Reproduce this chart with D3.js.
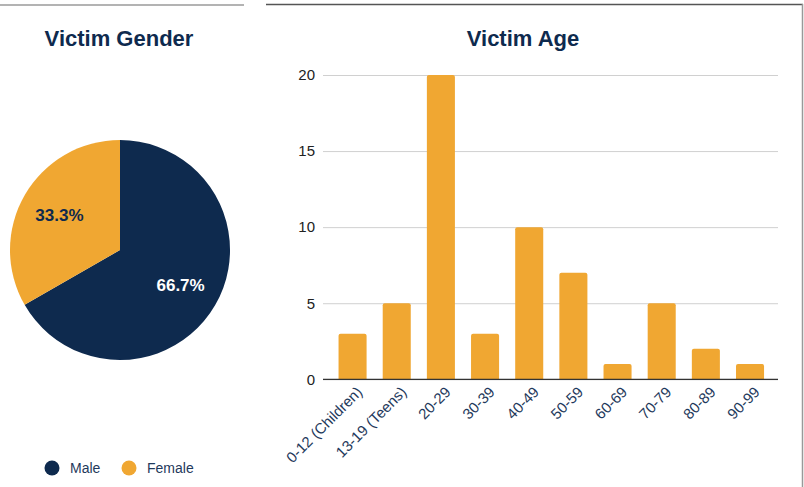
<!DOCTYPE html>
<html>
<head>
<meta charset="utf-8">
<script src="https://cdn.jsdelivr.net/npm/d3@7"></script>
<style>
  body { margin: 0; background: #fff; font-family: "Liberation Sans", Arial, sans-serif; }
  svg { display: block; }
</style>
</head>
<body>
<div id="chart"></div>
<script>
// gender pie
var genders = ['Male', 'Female'];
var genderShare = [66.7, 33.3];

// age bars
var ageGroups = ['0-12 (Children)', '13-19 (Teens)', '20-29', '30-39', '40-49', '50-59', '60-69', '70-79', '80-89', '90-99'];
var ageCounts = [3, 5, 20, 3, 10, 7, 1, 5, 2, 1];
var yTicks = [0, 5, 10, 15, 20];

var NAVY = '#0e2a4e', ORANGE = '#f0a732';

var W = 804, H = 487;
var svg = d3.select('#chart').append('svg')
    .attr('width', W)
    .attr('height', H);

// panel edges
svg.append('line').attr('x1', 0).attr('x2', 244).attr('y1', 5).attr('y2', 5)
    .attr('stroke', '#9a9a9a').attr('stroke-width', 1.5);
svg.append('line').attr('x1', 266).attr('x2', 803).attr('y1', 4.5).attr('y2', 4.5)
    .attr('stroke', '#555').attr('stroke-width', 1.5);
svg.append('line').attr('x1', 802.5).attr('x2', 802.5).attr('y1', 4).attr('y2', H)
    .attr('stroke', '#999').attr('stroke-width', 1.5);

// ---- pie ----
svg.append('text').attr('x', 119).attr('y', 46)
    .attr('text-anchor', 'middle').attr('font-size', 22).attr('font-weight', 'bold')
    .attr('fill', NAVY).text('Victim Gender');

var pieColor = d3.scaleOrdinal().domain(genders).range([NAVY, ORANGE]);
var pie = d3.pie().sort(null).value(function(d, i) { return genderShare[i]; });
var arcs = pie(genders);
var r = 110;
var arc = d3.arc().innerRadius(0).outerRadius(r);
var labelArc = d3.arc().innerRadius(70).outerRadius(70);

var pg = svg.append('g').attr('transform', 'translate(120,250)');
pg.selectAll('path').data(arcs).enter().append('path')
    .attr('d', arc)
    .attr('fill', function(d) { return pieColor(d.data); });
pg.selectAll('text').data(arcs).enter().append('text')
    .attr('transform', function(d) { return 'translate(' + labelArc.centroid(d) + ')'; })
    .attr('dy', 6)
    .attr('text-anchor', 'middle')
    .attr('font-size', 17).attr('font-weight', 'bold')
    .attr('fill', function(d) { return d.data === 'Male' ? '#fff' : NAVY; })
    .text(function(d, i) { return genderShare[i].toFixed(1) + '%'; });

// legend
var lg = svg.append('g').attr('transform', 'translate(52,468)');
var lx = [0, 77];
genders.forEach(function(g, i) {
    lg.append('circle').attr('cx', lx[i]).attr('cy', 0).attr('r', 7.5).attr('fill', pieColor(g));
    lg.append('text').attr('x', lx[i] + 18).attr('y', 5)
        .attr('font-size', 14).attr('fill', '#1f3a5c').text(g);
});

// ---- bars ----
svg.append('text').attr('x', 523).attr('y', 46)
    .attr('text-anchor', 'middle').attr('font-size', 22).attr('font-weight', 'bold')
    .attr('fill', NAVY).text('Victim Age');

var x = d3.scaleBand().domain(ageGroups).range([330.6, 772]).paddingInner(0.365).paddingOuter(0.18);
var y = d3.scaleLinear().domain([0, 20]).range([379.3, 75]);

var gx0 = 323, gx1 = 778;

var yAxis = d3.axisLeft(y).tickValues(yTicks).tickSize(-(gx1 - gx0)).tickPadding(8);
var gy = svg.append('g').attr('transform', 'translate(' + gx0 + ',0)').call(yAxis);
gy.select('.domain').remove();
gy.selectAll('.tick line').attr('stroke', '#d0d0d0').attr('stroke-width', 1);
gy.selectAll('.tick text').attr('font-size', 15).attr('fill', '#222')
    .attr('font-family', '"Liberation Sans", Arial, sans-serif');

svg.append('g').selectAll('path').data(ageGroups).enter().append('path')
    .attr('fill', ORANGE)
    .attr('d', function(d, i) {
        var x0 = x(d), w = x.bandwidth(), y0 = y(ageCounts[i]), y1 = y(0), rr = 2;
        return 'M' + x0 + ',' + y1 + 'V' + (y0 + rr) + 'Q' + x0 + ',' + y0 + ' ' + (x0 + rr) + ',' + y0 +
            'H' + (x0 + w - rr) + 'Q' + (x0 + w) + ',' + y0 + ' ' + (x0 + w) + ',' + (y0 + rr) + 'V' + y1 + 'Z';
    });

// baseline
svg.append('line').attr('x1', gx0).attr('x2', gx1).attr('y1', y(0)).attr('y2', y(0))
    .attr('stroke', '#333').attr('stroke-width', 1.3);

var xAxis = d3.axisBottom(x).tickSize(0).tickPadding(0);
var gxa = svg.append('g').attr('transform', 'translate(0,' + (y(0) + 10) + ')').call(xAxis);
gxa.select('.domain').remove();
gxa.selectAll('.tick text')
    .attr('font-size', 15).attr('fill', '#1f3a5c')
    .attr('font-family', '"Liberation Sans", Arial, sans-serif')
    .attr('text-anchor', 'end')
    .attr('dy', '0.35em')
    .attr('transform', 'translate(7,0) rotate(-45)');
</script>
</body>
</html>
